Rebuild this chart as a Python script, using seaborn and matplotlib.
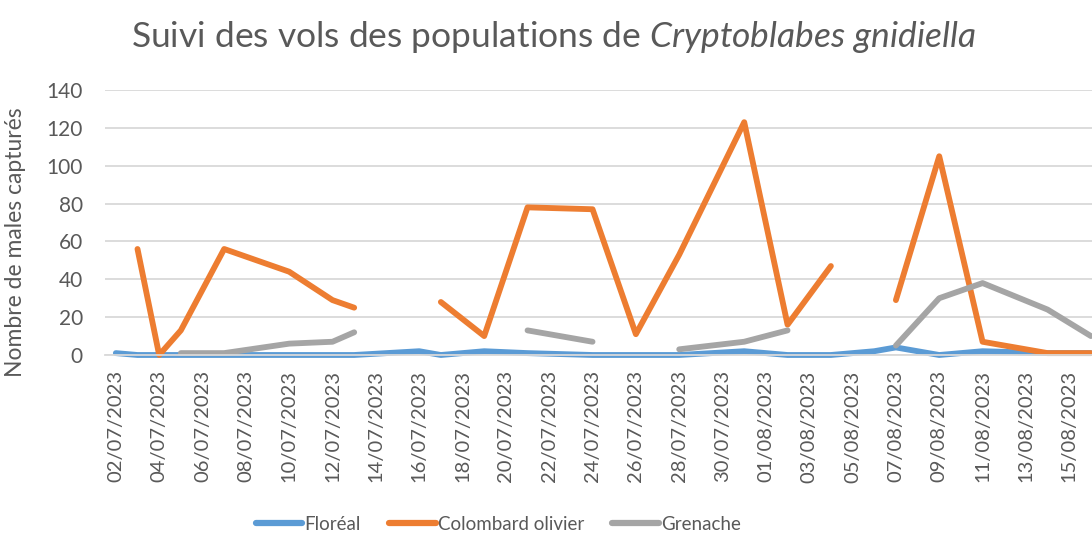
import numpy as np
import pandas as pd
import matplotlib
matplotlib.use("Agg")
import matplotlib.pyplot as plt
import seaborn as sns

# Relevés (jour/mois, 2023)
dates = ["02/07", "03/07", "04/07", "05/07", "07/07", "10/07", "12/07", "13/07",
         "16/07", "17/07", "19/07", "21/07", "24/07", "26/07", "28/07", "31/07",
         "02/08", "04/08", "06/08", "07/08", "09/08", "11/08", "14/08", "16/08"]
nan = np.nan
floreal = [1, 0, 0, 0, 0, 0, 0, 0, 2, 0, 2, 1, 0, 0, 0, 2, 0, 0, 2, 4, 0, 2, 1, 1]
colombard = [nan, 56, 0, 13, 56, 44, 29, 25, nan, 28, 10, 78, 77, 11, 53, 123,
             16, 47, nan, 29, 105, 7, 1, 1]
grenache = [nan, nan, nan, 1, 1, 6, 7, 12, nan, nan, nan, 13, 7, nan, 3, 7,
            13, nan, nan, 5, 30, 38, 24, 10]
series_names = ["Floréal", "Colombard olivier", "Grenache"]
colors = ["#5B9BD5", "#ED7D31", "#A5A5A5"]

start = pd.Timestamp("2023-07-02")
day = [(pd.to_datetime(d + "/2023", format="%d/%m/%Y") - start).days for d in dates]

# long table, with a segment id so gaps (empty cells) stay gaps
rows = []
for name, vals in zip(series_names, [floreal, colombard, grenache]):
    seg = 0
    for x, v in zip(day, vals):
        if np.isnan(v):
            seg += 1
            continue
        rows.append({"day": x, "value": v, "serie": name, "seg": f"{name}-{seg}"})
df = pd.DataFrame(rows)

sns.set_style("white")
plt.rcParams["font.family"] = ["Lato", "DejaVu Sans"]
plt.rcParams["mathtext.fontset"] = "custom"
plt.rcParams["mathtext.rm"] = "Lato"
plt.rcParams["mathtext.it"] = "Lato:italic"

fig = plt.figure(figsize=(10.92, 5.35), dpi=100)
ax = fig.add_axes([105 / 1092, 1 - 355 / 535, 1 - 105 / 1092, (355 - 90) / 535])

sns.lineplot(data=df, x="day", y="value", hue="serie", units="seg", estimator=None,
             hue_order=series_names, palette=colors, linewidth=4.2, ax=ax,
             solid_capstyle="round", solid_joinstyle="round", clip_on=False)

ax.set_xlim(-0.5, 45.05)
ax.set_ylim(0, 140)
ax.set_yticks(range(0, 141, 20))
ticks = list(range(0, 45, 2))
ax.set_xticks(ticks)
ax.set_xticklabels([(start + pd.Timedelta(days=t)).strftime("%d/%m/%Y") for t in ticks],
                   rotation=90)
ax.tick_params(axis="both", colors="#595959", length=0)
ax.tick_params(axis="x", labelsize=14.5, pad=11)
ax.tick_params(axis="y", labelsize=15, pad=16)
ax.grid(axis="y", color="#D9D9D9", linewidth=1.3)
ax.set_axisbelow(True)
for s in ["top", "right", "left"]:
    ax.spines[s].set_visible(False)
ax.spines["bottom"].set_color("#D9D9D9")
ax.spines["bottom"].set_linewidth(1.3)
ax.set_xlabel("")
ax.set_ylabel("")

fig.text(554 / 1092, 1 - 37 / 535,
         r"Suivi des vols des populations de $\it{Cryptoblabes\ gnidiella}$",
         ha="center", va="center", fontsize=25.5, color="#595959")
fig.text(16 / 1092, 1 - 242 / 535, "Nombre de males capturés", rotation=90,
         ha="center", va="center", fontsize=16.5, color="#595959")

handles, labels = ax.get_legend_handles_labels()
leg = ax.legend(handles, labels, loc="center", bbox_to_anchor=(498 / 1092, 1 - 524 / 535),
                bbox_transform=fig.transFigure, ncol=3, frameon=False, fontsize=13.5,
                handlelength=2.5, columnspacing=1.5, handletextpad=0.1)
for t in leg.get_texts():
    t.set_color("#595959")
for l in leg.get_lines():
    l.set_linewidth(4.5)

fig.savefig("out.png", dpi=100)
